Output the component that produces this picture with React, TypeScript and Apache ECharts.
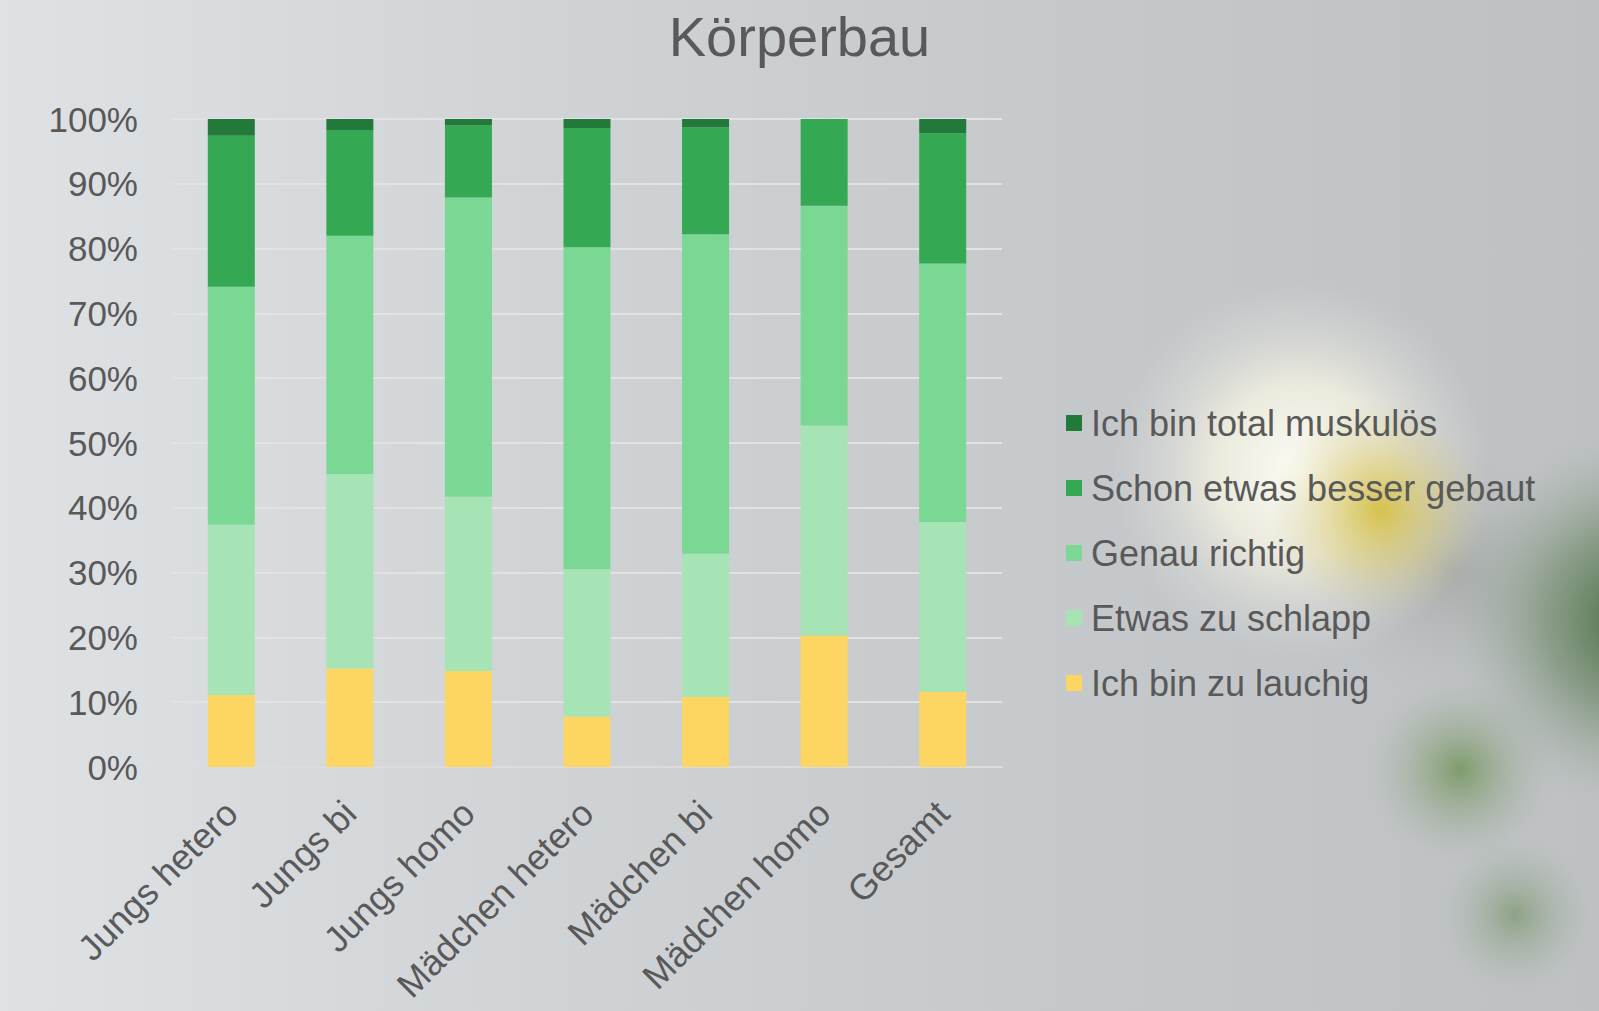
import React, { useEffect, useRef } from "react";
import * as echarts from "echarts";

const categories = ["Jungs hetero", "Jungs bi", "Jungs homo", "Mädchen hetero", "Mädchen bi", "Mädchen homo", "Gesamt"];
const seriesNames = ["Ich bin zu lauchig", "Etwas zu schlapp", "Genau richtig", "Schon etwas besser gebaut", "Ich bin total muskulös"];
const lauchig = [11.1, 15.2, 14.8, 7.8, 10.8, 20.3, 11.6];
const schlapp = [26.3, 30.0, 26.9, 22.7, 22.1, 32.4, 26.2];
const genau = [36.7, 36.8, 46.2, 49.7, 49.3, 33.9, 39.9];
const schon = [23.3, 16.3, 11.1, 18.4, 16.5, 13.4, 20.1];
const muskuloes = [2.6, 1.7, 1.0, 1.4, 1.3, 0, 2.2];
const colors = ["#fdd562", "#a6e4b6", "#7bd794", "#34a853", "#217a3a"];
const legendOrder = ["Ich bin total muskulös", "Schon etwas besser gebaut", "Genau richtig", "Etwas zu schlapp", "Ich bin zu lauchig"];

function blob(cx: number, cy: number, r: number, stops: [number, string][], z = -9) {
  return {
    type: "circle", z, silent: true,
    shape: { cx, cy, r },
    style: {
      fill: {
        type: "radial", x: 0.5, y: 0.5, r: 0.5,
        colorStops: stops.map(([offset, color]) => ({ offset, color })),
      },
    },
  };
}

export default function App() {
  const ref = useRef<HTMLDivElement>(null);
  useEffect(() => {
    if (!ref.current) return;
    const chart = echarts.init(ref.current, null, { renderer: "svg" });
    const values = [lauchig, schlapp, genau, schon, muskuloes];
    const font = "'Liberation Sans', Arial, sans-serif";
    chart.setOption({
      animation: false,
      backgroundColor: {
        type: "linear", x: 0, y: 0, x2: 1, y2: 0,
        colorStops: [
          { offset: 0, color: "#dfe2e5" },
          { offset: 0.35, color: "#d0d3d6" },
          { offset: 0.65, color: "#c6c9cc" },
          { offset: 1, color: "#bec1c3" },
        ],
      },
      graphic: [
        blob(1450, 570, 130, [[0, "rgba(150,155,150,0.6)"], [1, "rgba(180,185,185,0)"]], -11),
        blob(1300, 470, 190, [[0, "rgba(255,255,248,0.95)"], [0.45, "rgba(248,246,228,0.75)"], [1, "rgba(220,222,220,0)"]], -10),
        blob(1380, 510, 110, [[0, "rgba(210,185,40,0.8)"], [0.5, "rgba(215,195,90,0.4)"], [1, "rgba(210,200,150,0)"]]),
        blob(1640, 620, 190, [[0, "rgba(35,85,30,0.85)"], [0.5, "rgba(80,115,70,0.45)"], [1, "rgba(150,165,150,0)"]]),
        blob(1460, 770, 95, [[0, "rgba(90,135,60,0.65)"], [0.5, "rgba(120,150,100,0.3)"], [1, "rgba(160,175,160,0)"]]),
        blob(1515, 915, 80, [[0, "rgba(90,130,70,0.5)"], [1, "rgba(160,175,160,0)"]]),
      ],
      title: {
        text: "Körperbau",
        left: "center",
        top: 3,
        textStyle: { fontFamily: font, fontSize: 56, fontWeight: "normal", color: "#595959" },
      },
      legend: {
        orient: "vertical",
        left: 1061,
        top: 400,
        itemWidth: 16,
        itemHeight: 16,
        itemGap: 29,
        icon: "rect",
        data: legendOrder,
        textStyle: { fontFamily: font, fontSize: 36, color: "#595959", lineHeight: 36, padding: [0, 0, 0, 4] },
      },
      grid: { left: 172, right: 597, top: 119, bottom: 244, containLabel: false },
      xAxis: {
        type: "category",
        data: categories,
        axisLine: { show: true, lineStyle: { color: "#dcdcdc", width: 2 } },
        axisTick: { show: false },
        axisLabel: { rotate: 45, interval: 0, margin: 40, fontFamily: font, fontSize: 36, color: "#595959" },
      },
      yAxis: {
        type: "value",
        min: 0,
        max: 100,
        interval: 10,
        axisLine: { show: false },
        axisTick: { show: false },
        axisLabel: { formatter: "{value}%", margin: 34, fontFamily: font, fontSize: 35, color: "#595959" },
        splitLine: { lineStyle: { color: "#e2e2e2", width: 2 } },
      },
      series: seriesNames.map((name, i) => ({
        name,
        type: "bar",
        stack: "total",
        barWidth: 47,
        data: values[i],
        itemStyle: { color: colors[i] },
      })),
    });
    return () => chart.dispose();
  }, []);
  return <div ref={ref} style={{ position: "absolute", left: 0, top: 0, width: 1599, height: 1011 }} />;
}
